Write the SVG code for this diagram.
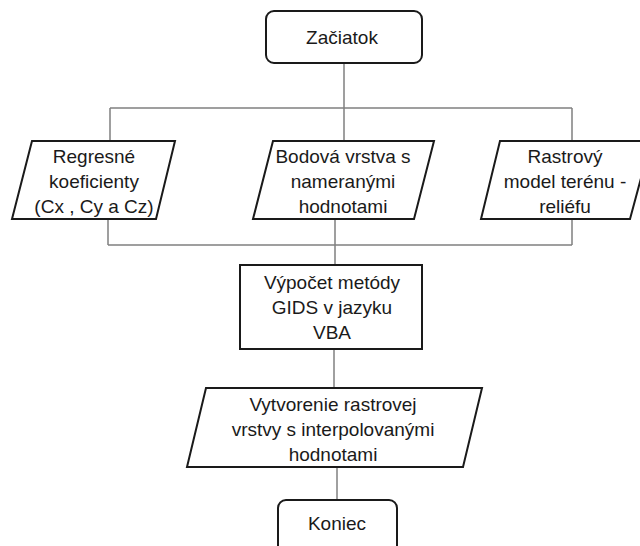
<svg xmlns="http://www.w3.org/2000/svg" width="640" height="546" viewBox="0 0 640 546">
  <style>
    .shape { fill: #ffffff; stroke: #1a1a1a; stroke-width: 2; stroke-linejoin: miter; }
    .wire { fill: none; stroke: #808080; stroke-width: 1.5; }
    .label { font-family: "Liberation Sans", Arial, sans-serif; font-size: 19px; fill: #1a1a1a; text-anchor: middle; }
  </style>
  <rect width="640" height="546" fill="#ffffff"/>

  <!-- connectors -->
  <g id="connectors">
    <path class="wire" d="M344 63 V108 M110 108 H572 M110 108 V141 M344 108 V141 M572 108 V141"/>
    <path class="wire" d="M108 219 V245 M335 219 V265 M572 219 V245 M108 245 H572"/>
    <path class="wire" d="M334 349 V388"/>
    <path class="wire" d="M337 467 V500"/>
  </g>

  <!-- start -->
  <g id="start">
    <rect class="shape" x="266" y="11" width="156" height="52" rx="8"/>
    <text class="label" x="342" y="44">Začiatok</text>
  </g>

  <!-- inputs -->
  <g id="input-coefficients">
    <polygon class="shape" points="32,141 175,141 156,219 12,219"/>
    <text class="label" x="94" y="163">Regresné</text>
    <text class="label" x="94" y="188">koeficienty</text>
    <text class="label" x="94" y="213">(Cx , Cy a Cz)</text>
  </g>

  <g id="input-points">
    <polygon class="shape" points="273,141 434,141 414,219 253,219"/>
    <text class="label" x="343" y="163">Bodová vrstva s</text>
    <text class="label" x="343" y="188">nameranými</text>
    <text class="label" x="343" y="213">hodnotami</text>
  </g>

  <g id="input-terrain">
    <polygon class="shape" points="500,141 651,141 630,219 481,219"/>
    <text class="label" x="565" y="163">Rastrový</text>
    <text class="label" x="565" y="188">model terénu -</text>
    <text class="label" x="565" y="213">reliéfu</text>
  </g>

  <!-- processing -->
  <g id="process">
    <rect class="shape" x="240" y="265" width="182" height="84"/>
    <text class="label" x="332" y="289">Výpočet metódy</text>
    <text class="label" x="332" y="314">GIDS v jazyku</text>
    <text class="label" x="332" y="339">VBA</text>
  </g>

  <!-- output -->
  <g id="output">
    <polygon class="shape" points="206,388 482,388 463,467 187,467"/>
    <text class="label" x="333" y="411">Vytvorenie rastrovej</text>
    <text class="label" x="333" y="436">vrstvy s interpolovanými</text>
    <text class="label" x="333" y="461">hodnotami</text>
  </g>

  <!-- end -->
  <g id="end">
    <rect class="shape" x="278" y="500" width="119" height="60" rx="8"/>
    <text class="label" x="337" y="530">Koniec</text>
  </g>
</svg>
